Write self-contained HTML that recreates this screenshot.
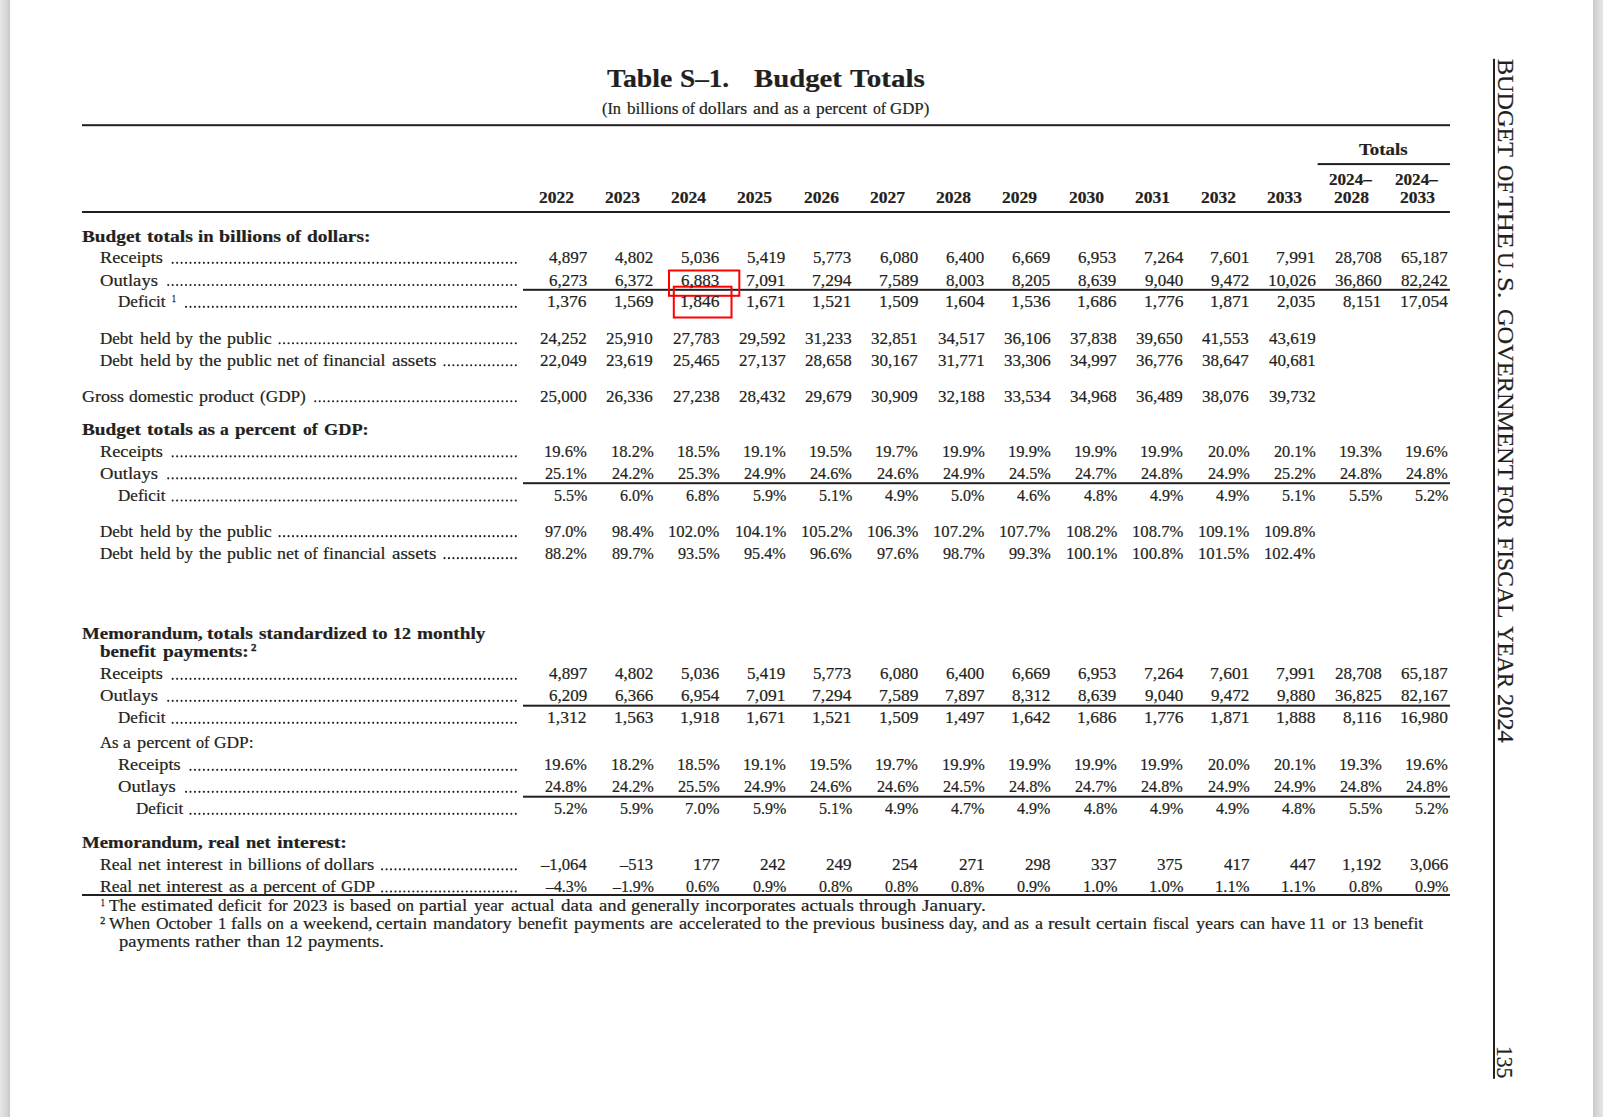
<!DOCTYPE html>
<html lang="en">
<head>
<meta charset="utf-8">
<title>Table S-1. Budget Totals</title>
<style>
html,body{margin:0;padding:0;background:#fff;}
body{width:1603px;height:1117px;position:relative;overflow:hidden;font-family:"Liberation Serif",serif;color:#231f20;}
.edge{position:absolute;top:0;width:10px;height:1117px;}
.edge.l{left:0;background:linear-gradient(to right,#e7e7e7 0%,#d4d4d4 70%,#c8c8c8 100%);}
.edge.r{left:1593px;background:linear-gradient(to left,#e7e7e7 0%,#d4d4d4 70%,#c8c8c8 100%);}
svg{position:absolute;left:0;top:0;}
.t{position:absolute;white-space:pre;transform-origin:0 0;font-family:"Liberation Serif",serif;-webkit-text-stroke:0.2px #231f20;}
.r{font-weight:400;}
.b{font-weight:700;}
.s{-webkit-text-stroke:0.35px #231f20;}
</style>
</head>
<body>
<div class="edge l"></div>
<div class="edge r"></div>
<svg width="1603" height="1117" viewBox="0 0 1603 1117">
<rect x="82.00" y="124.20" width="1368.00" height="2.00" fill="#231f20"/>
<rect x="1317.60" y="163.10" width="132.40" height="2.00" fill="#231f20"/>
<rect x="82.00" y="211.00" width="1368.00" height="2.00" fill="#231f20"/>
<rect x="523.00" y="288.80" width="927.00" height="2.00" fill="#231f20"/>
<rect x="523.00" y="482.20" width="927.00" height="2.00" fill="#231f20"/>
<rect x="523.00" y="704.70" width="927.00" height="2.00" fill="#231f20"/>
<rect x="523.00" y="795.70" width="927.00" height="2.00" fill="#231f20"/>
<rect x="82.00" y="894.00" width="1368.00" height="2.00" fill="#231f20"/>
<rect x="1493" y="58.8" width="2" height="1020.0" fill="#231f20"/>
<line x1="172.69" y1="262.85" x2="515.81" y2="262.85" stroke="#231f20" stroke-width="2.1" stroke-linecap="round" stroke-dasharray="0 4.456"/>
<line x1="168.23" y1="285.05" x2="515.81" y2="285.05" stroke="#231f20" stroke-width="2.1" stroke-linecap="round" stroke-dasharray="0 4.456"/>
<line x1="186.06" y1="306.85" x2="515.81" y2="306.85" stroke="#231f20" stroke-width="2.1" stroke-linecap="round" stroke-dasharray="0 4.456"/>
<line x1="279.63" y1="343.25" x2="515.81" y2="343.25" stroke="#231f20" stroke-width="2.1" stroke-linecap="round" stroke-dasharray="0 4.456"/>
<line x1="444.50" y1="365.25" x2="515.81" y2="365.25" stroke="#231f20" stroke-width="2.1" stroke-linecap="round" stroke-dasharray="0 4.456"/>
<line x1="315.28" y1="401.25" x2="515.81" y2="401.25" stroke="#231f20" stroke-width="2.1" stroke-linecap="round" stroke-dasharray="0 4.456"/>
<line x1="172.69" y1="456.35" x2="515.81" y2="456.35" stroke="#231f20" stroke-width="2.1" stroke-linecap="round" stroke-dasharray="0 4.456"/>
<line x1="168.23" y1="478.35" x2="515.81" y2="478.35" stroke="#231f20" stroke-width="2.1" stroke-linecap="round" stroke-dasharray="0 4.456"/>
<line x1="172.69" y1="500.45" x2="515.81" y2="500.45" stroke="#231f20" stroke-width="2.1" stroke-linecap="round" stroke-dasharray="0 4.456"/>
<line x1="279.63" y1="536.15" x2="515.81" y2="536.15" stroke="#231f20" stroke-width="2.1" stroke-linecap="round" stroke-dasharray="0 4.456"/>
<line x1="444.50" y1="558.15" x2="515.81" y2="558.15" stroke="#231f20" stroke-width="2.1" stroke-linecap="round" stroke-dasharray="0 4.456"/>
<line x1="172.69" y1="678.85" x2="515.81" y2="678.85" stroke="#231f20" stroke-width="2.1" stroke-linecap="round" stroke-dasharray="0 4.456"/>
<line x1="168.23" y1="700.85" x2="515.81" y2="700.85" stroke="#231f20" stroke-width="2.1" stroke-linecap="round" stroke-dasharray="0 4.456"/>
<line x1="172.69" y1="722.85" x2="515.81" y2="722.85" stroke="#231f20" stroke-width="2.1" stroke-linecap="round" stroke-dasharray="0 4.456"/>
<line x1="190.51" y1="769.85" x2="515.81" y2="769.85" stroke="#231f20" stroke-width="2.1" stroke-linecap="round" stroke-dasharray="0 4.456"/>
<line x1="186.06" y1="791.85" x2="515.81" y2="791.85" stroke="#231f20" stroke-width="2.1" stroke-linecap="round" stroke-dasharray="0 4.456"/>
<line x1="190.51" y1="813.85" x2="515.81" y2="813.85" stroke="#231f20" stroke-width="2.1" stroke-linecap="round" stroke-dasharray="0 4.456"/>
<line x1="382.12" y1="869.35" x2="515.81" y2="869.35" stroke="#231f20" stroke-width="2.1" stroke-linecap="round" stroke-dasharray="0 4.456"/>
<line x1="382.12" y1="891.45" x2="515.81" y2="891.45" stroke="#231f20" stroke-width="2.1" stroke-linecap="round" stroke-dasharray="0 4.456"/>
<rect x="669" y="270.5" width="70.3" height="25.3" fill="none" stroke="#ff0000" stroke-width="2"/>
<rect x="673.8" y="286.7" width="57.7" height="30.8" fill="none" stroke="#ff0000" stroke-width="2"/>
</svg>
<span class="t b" style="left:606.80px;top:66.00px;font-size:25px;line-height:25px;transform:scaleX(1.1101)">Table</span>
<span class="t b" style="left:679.91px;top:66.00px;font-size:25px;line-height:25px;transform:scaleX(1.0887)">S–1.</span>
<span class="t b" style="left:753.90px;top:66.00px;font-size:25px;line-height:25px;transform:scaleX(1.1507)">Budget</span>
<span class="t b" style="left:849.80px;top:66.00px;font-size:25px;line-height:25px;transform:scaleX(1.1630)">Totals</span>
<span class="t r" style="left:602.40px;top:101.00px;font-size:16.0px;line-height:16.0px;transform:scaleX(1.0184)">(In</span>
<span class="t r" style="left:627.10px;top:101.00px;font-size:16.0px;line-height:16.0px;transform:scaleX(1.0714)">billions</span>
<span class="t r" style="left:682.48px;top:101.00px;font-size:16.0px;line-height:16.0px;transform:scaleX(0.9821)">of</span>
<span class="t r" style="left:699.40px;top:101.00px;font-size:16.0px;line-height:16.0px;transform:scaleX(1.1034)">dollars</span>
<span class="t r" style="left:752.80px;top:101.00px;font-size:16.0px;line-height:16.0px;transform:scaleX(1.1164)">and</span>
<span class="t r" style="left:783.60px;top:101.00px;font-size:16.0px;line-height:16.0px;transform:scaleX(1.0762)">as</span>
<span class="t r" style="left:803.30px;top:101.00px;font-size:16.0px;line-height:16.0px;transform:scaleX(1.0274)">a</span>
<span class="t r" style="left:815.70px;top:101.00px;font-size:16.0px;line-height:16.0px;transform:scaleX(1.0833)">percent</span>
<span class="t r" style="left:872.83px;top:101.00px;font-size:16.0px;line-height:16.0px;transform:scaleX(0.9821)">of</span>
<span class="t r" style="left:890.20px;top:101.00px;font-size:16.0px;line-height:16.0px;transform:scaleX(1.0509)">GDP)</span>
<span class="t b" style="left:538.75px;top:190.00px;font-size:16.0px;line-height:16.0px;transform:scaleX(1.0969)">2022</span>
<span class="t b" style="left:604.98px;top:190.00px;font-size:16.0px;line-height:16.0px;transform:scaleX(1.0969)">2023</span>
<span class="t b" style="left:671.21px;top:190.00px;font-size:16.0px;line-height:16.0px;transform:scaleX(1.0969)">2024</span>
<span class="t b" style="left:737.44px;top:190.00px;font-size:16.0px;line-height:16.0px;transform:scaleX(1.0969)">2025</span>
<span class="t b" style="left:803.67px;top:190.00px;font-size:16.0px;line-height:16.0px;transform:scaleX(1.0969)">2026</span>
<span class="t b" style="left:869.90px;top:190.00px;font-size:16.0px;line-height:16.0px;transform:scaleX(1.0969)">2027</span>
<span class="t b" style="left:936.13px;top:190.00px;font-size:16.0px;line-height:16.0px;transform:scaleX(1.0969)">2028</span>
<span class="t b" style="left:1002.36px;top:190.00px;font-size:16.0px;line-height:16.0px;transform:scaleX(1.0969)">2029</span>
<span class="t b" style="left:1068.59px;top:190.00px;font-size:16.0px;line-height:16.0px;transform:scaleX(1.0969)">2030</span>
<span class="t b" style="left:1134.82px;top:190.00px;font-size:16.0px;line-height:16.0px;transform:scaleX(1.0969)">2031</span>
<span class="t b" style="left:1201.05px;top:190.00px;font-size:16.0px;line-height:16.0px;transform:scaleX(1.0969)">2032</span>
<span class="t b" style="left:1267.28px;top:190.00px;font-size:16.0px;line-height:16.0px;transform:scaleX(1.0969)">2033</span>
<span class="t b" style="left:1329.16px;top:172.00px;font-size:16.0px;line-height:16.0px;transform:scaleX(1.0683)">2024–</span>
<span class="t b" style="left:1333.51px;top:190.00px;font-size:16.0px;line-height:16.0px;transform:scaleX(1.0969)">2028</span>
<span class="t b" style="left:1395.39px;top:172.00px;font-size:16.0px;line-height:16.0px;transform:scaleX(1.0683)">2024–</span>
<span class="t b" style="left:1399.74px;top:190.00px;font-size:16.0px;line-height:16.0px;transform:scaleX(1.0969)">2033</span>
<span class="t b" style="left:1359.35px;top:142.00px;font-size:16.0px;line-height:16.0px;transform:scaleX(1.1787)">Totals</span>
<span class="t b" style="left:81.70px;top:229.00px;font-size:16.0px;line-height:16.0px;transform:scaleX(1.2042)">Budget</span>
<span class="t b" style="left:146.80px;top:229.00px;font-size:16.0px;line-height:16.0px;transform:scaleX(1.2291)">totals</span>
<span class="t b" style="left:198.00px;top:229.00px;font-size:16.0px;line-height:16.0px;transform:scaleX(1.1677)">in</span>
<span class="t b" style="left:219.30px;top:229.00px;font-size:16.0px;line-height:16.0px;transform:scaleX(1.2463)">billions</span>
<span class="t b" style="left:285.77px;top:229.00px;font-size:16.0px;line-height:16.0px;transform:scaleX(1.1251)">of</span>
<span class="t b" style="left:306.90px;top:229.00px;font-size:16.0px;line-height:16.0px;transform:scaleX(1.2088)">dollars:</span>
<span class="t r" style="left:99.90px;top:250.00px;font-size:16.0px;line-height:16.0px;transform:scaleX(1.1409)">Receipts</span>
<span class="t r" style="left:548.57px;top:250.00px;font-size:16.0px;line-height:16.0px;transform:scaleX(1.0647)">4,897</span>
<span class="t r" style="left:614.80px;top:250.00px;font-size:16.0px;line-height:16.0px;transform:scaleX(1.0647)">4,802</span>
<span class="t r" style="left:681.03px;top:250.00px;font-size:16.0px;line-height:16.0px;transform:scaleX(1.0647)">5,036</span>
<span class="t r" style="left:747.26px;top:250.00px;font-size:16.0px;line-height:16.0px;transform:scaleX(1.0647)">5,419</span>
<span class="t r" style="left:813.49px;top:250.00px;font-size:16.0px;line-height:16.0px;transform:scaleX(1.0647)">5,773</span>
<span class="t r" style="left:879.72px;top:250.00px;font-size:16.0px;line-height:16.0px;transform:scaleX(1.0647)">6,080</span>
<span class="t r" style="left:945.95px;top:250.00px;font-size:16.0px;line-height:16.0px;transform:scaleX(1.0647)">6,400</span>
<span class="t r" style="left:1012.18px;top:250.00px;font-size:16.0px;line-height:16.0px;transform:scaleX(1.0647)">6,669</span>
<span class="t r" style="left:1078.41px;top:250.00px;font-size:16.0px;line-height:16.0px;transform:scaleX(1.0647)">6,953</span>
<span class="t r" style="left:1143.54px;top:250.00px;font-size:16.0px;line-height:16.0px;transform:scaleX(1.0952)">7,264</span>
<span class="t r" style="left:1209.77px;top:250.00px;font-size:16.0px;line-height:16.0px;transform:scaleX(1.0952)">7,601</span>
<span class="t r" style="left:1276.00px;top:250.00px;font-size:16.0px;line-height:16.0px;transform:scaleX(1.0952)">7,991</span>
<span class="t r" style="left:1334.88px;top:250.00px;font-size:16.0px;line-height:16.0px;transform:scaleX(1.0632)">28,708</span>
<span class="t r" style="left:1401.11px;top:250.00px;font-size:16.0px;line-height:16.0px;transform:scaleX(1.0632)">65,187</span>
<span class="t r" style="left:99.90px;top:273.00px;font-size:16.0px;line-height:16.0px;transform:scaleX(1.1644)">Outlays</span>
<span class="t r" style="left:548.57px;top:273.00px;font-size:16.0px;line-height:16.0px;transform:scaleX(1.0647)">6,273</span>
<span class="t r" style="left:614.80px;top:273.00px;font-size:16.0px;line-height:16.0px;transform:scaleX(1.0647)">6,372</span>
<span class="t r" style="left:681.03px;top:273.00px;font-size:16.0px;line-height:16.0px;transform:scaleX(1.0647)">6,883</span>
<span class="t r" style="left:746.16px;top:273.00px;font-size:16.0px;line-height:16.0px;transform:scaleX(1.0952)">7,091</span>
<span class="t r" style="left:812.39px;top:273.00px;font-size:16.0px;line-height:16.0px;transform:scaleX(1.0952)">7,294</span>
<span class="t r" style="left:878.62px;top:273.00px;font-size:16.0px;line-height:16.0px;transform:scaleX(1.0952)">7,589</span>
<span class="t r" style="left:945.95px;top:273.00px;font-size:16.0px;line-height:16.0px;transform:scaleX(1.0647)">8,003</span>
<span class="t r" style="left:1012.18px;top:273.00px;font-size:16.0px;line-height:16.0px;transform:scaleX(1.0647)">8,205</span>
<span class="t r" style="left:1078.41px;top:273.00px;font-size:16.0px;line-height:16.0px;transform:scaleX(1.0647)">8,639</span>
<span class="t r" style="left:1144.64px;top:273.00px;font-size:16.0px;line-height:16.0px;transform:scaleX(1.0647)">9,040</span>
<span class="t r" style="left:1210.87px;top:273.00px;font-size:16.0px;line-height:16.0px;transform:scaleX(1.0647)">9,472</span>
<span class="t r" style="left:1267.56px;top:273.00px;font-size:16.0px;line-height:16.0px;transform:scaleX(1.0879)">10,026</span>
<span class="t r" style="left:1334.88px;top:273.00px;font-size:16.0px;line-height:16.0px;transform:scaleX(1.0632)">36,860</span>
<span class="t r" style="left:1401.11px;top:273.00px;font-size:16.0px;line-height:16.0px;transform:scaleX(1.0632)">82,242</span>
<span class="t r" style="left:118.00px;top:294.00px;font-size:16.0px;line-height:16.0px;transform:scaleX(1.0694)">Deficit</span>
<span class="t r s" style="left:171.60px;top:294.00px;font-size:10.5px;line-height:10.5px;transform:scaleX(0.7200)">1</span>
<span class="t r" style="left:547.47px;top:294.00px;font-size:16.0px;line-height:16.0px;transform:scaleX(1.0952)">1,376</span>
<span class="t r" style="left:613.70px;top:294.00px;font-size:16.0px;line-height:16.0px;transform:scaleX(1.0952)">1,569</span>
<span class="t r" style="left:679.93px;top:294.00px;font-size:16.0px;line-height:16.0px;transform:scaleX(1.0952)">1,846</span>
<span class="t r" style="left:746.16px;top:294.00px;font-size:16.0px;line-height:16.0px;transform:scaleX(1.0952)">1,671</span>
<span class="t r" style="left:812.39px;top:294.00px;font-size:16.0px;line-height:16.0px;transform:scaleX(1.0952)">1,521</span>
<span class="t r" style="left:878.62px;top:294.00px;font-size:16.0px;line-height:16.0px;transform:scaleX(1.0952)">1,509</span>
<span class="t r" style="left:944.85px;top:294.00px;font-size:16.0px;line-height:16.0px;transform:scaleX(1.0952)">1,604</span>
<span class="t r" style="left:1011.08px;top:294.00px;font-size:16.0px;line-height:16.0px;transform:scaleX(1.0952)">1,536</span>
<span class="t r" style="left:1077.31px;top:294.00px;font-size:16.0px;line-height:16.0px;transform:scaleX(1.0952)">1,686</span>
<span class="t r" style="left:1143.54px;top:294.00px;font-size:16.0px;line-height:16.0px;transform:scaleX(1.0952)">1,776</span>
<span class="t r" style="left:1209.77px;top:294.00px;font-size:16.0px;line-height:16.0px;transform:scaleX(1.0952)">1,871</span>
<span class="t r" style="left:1277.10px;top:294.00px;font-size:16.0px;line-height:16.0px;transform:scaleX(1.0647)">2,035</span>
<span class="t r" style="left:1343.33px;top:294.00px;font-size:16.0px;line-height:16.0px;transform:scaleX(1.0647)">8,151</span>
<span class="t r" style="left:1400.02px;top:294.00px;font-size:16.0px;line-height:16.0px;transform:scaleX(1.0879)">17,054</span>
<span class="t r" style="left:99.90px;top:331.00px;font-size:16.0px;line-height:16.0px;transform:scaleX(1.0643)">Debt</span>
<span class="t r" style="left:140.30px;top:331.00px;font-size:16.0px;line-height:16.0px;transform:scaleX(1.1181)">held</span>
<span class="t r" style="left:176.20px;top:331.00px;font-size:16.0px;line-height:16.0px;transform:scaleX(1.0563)">by</span>
<span class="t r" style="left:198.50px;top:331.00px;font-size:16.0px;line-height:16.0px;transform:scaleX(1.1519)">the</span>
<span class="t r" style="left:226.70px;top:331.00px;font-size:16.0px;line-height:16.0px;transform:scaleX(1.1203)">public</span>
<span class="t r" style="left:540.12px;top:331.00px;font-size:16.0px;line-height:16.0px;transform:scaleX(1.0632)">24,252</span>
<span class="t r" style="left:606.35px;top:331.00px;font-size:16.0px;line-height:16.0px;transform:scaleX(1.0632)">25,910</span>
<span class="t r" style="left:672.58px;top:331.00px;font-size:16.0px;line-height:16.0px;transform:scaleX(1.0632)">27,783</span>
<span class="t r" style="left:738.81px;top:331.00px;font-size:16.0px;line-height:16.0px;transform:scaleX(1.0632)">29,592</span>
<span class="t r" style="left:805.04px;top:331.00px;font-size:16.0px;line-height:16.0px;transform:scaleX(1.0632)">31,233</span>
<span class="t r" style="left:871.27px;top:331.00px;font-size:16.0px;line-height:16.0px;transform:scaleX(1.0632)">32,851</span>
<span class="t r" style="left:937.50px;top:331.00px;font-size:16.0px;line-height:16.0px;transform:scaleX(1.0632)">34,517</span>
<span class="t r" style="left:1003.73px;top:331.00px;font-size:16.0px;line-height:16.0px;transform:scaleX(1.0632)">36,106</span>
<span class="t r" style="left:1069.96px;top:331.00px;font-size:16.0px;line-height:16.0px;transform:scaleX(1.0632)">37,838</span>
<span class="t r" style="left:1136.19px;top:331.00px;font-size:16.0px;line-height:16.0px;transform:scaleX(1.0632)">39,650</span>
<span class="t r" style="left:1202.42px;top:331.00px;font-size:16.0px;line-height:16.0px;transform:scaleX(1.0632)">41,553</span>
<span class="t r" style="left:1268.65px;top:331.00px;font-size:16.0px;line-height:16.0px;transform:scaleX(1.0632)">43,619</span>
<span class="t r" style="left:99.90px;top:353.00px;font-size:16.0px;line-height:16.0px;transform:scaleX(1.0643)">Debt</span>
<span class="t r" style="left:140.30px;top:353.00px;font-size:16.0px;line-height:16.0px;transform:scaleX(1.1181)">held</span>
<span class="t r" style="left:176.20px;top:353.00px;font-size:16.0px;line-height:16.0px;transform:scaleX(1.0563)">by</span>
<span class="t r" style="left:198.50px;top:353.00px;font-size:16.0px;line-height:16.0px;transform:scaleX(1.1519)">the</span>
<span class="t r" style="left:226.70px;top:353.00px;font-size:16.0px;line-height:16.0px;transform:scaleX(1.1203)">public</span>
<span class="t r" style="left:276.60px;top:353.00px;font-size:16.0px;line-height:16.0px;transform:scaleX(1.1193)">net</span>
<span class="t r" style="left:304.32px;top:353.00px;font-size:16.0px;line-height:16.0px;transform:scaleX(1.0325)">of</span>
<span class="t r" style="left:322.50px;top:353.00px;font-size:16.0px;line-height:16.0px;transform:scaleX(1.1164)">financial</span>
<span class="t r" style="left:391.56px;top:353.00px;font-size:16.0px;line-height:16.0px;transform:scaleX(1.1880)">assets</span>
<span class="t r" style="left:540.12px;top:353.00px;font-size:16.0px;line-height:16.0px;transform:scaleX(1.0632)">22,049</span>
<span class="t r" style="left:606.35px;top:353.00px;font-size:16.0px;line-height:16.0px;transform:scaleX(1.0632)">23,619</span>
<span class="t r" style="left:672.58px;top:353.00px;font-size:16.0px;line-height:16.0px;transform:scaleX(1.0632)">25,465</span>
<span class="t r" style="left:738.81px;top:353.00px;font-size:16.0px;line-height:16.0px;transform:scaleX(1.0632)">27,137</span>
<span class="t r" style="left:805.04px;top:353.00px;font-size:16.0px;line-height:16.0px;transform:scaleX(1.0632)">28,658</span>
<span class="t r" style="left:871.27px;top:353.00px;font-size:16.0px;line-height:16.0px;transform:scaleX(1.0632)">30,167</span>
<span class="t r" style="left:937.50px;top:353.00px;font-size:16.0px;line-height:16.0px;transform:scaleX(1.0632)">31,771</span>
<span class="t r" style="left:1003.73px;top:353.00px;font-size:16.0px;line-height:16.0px;transform:scaleX(1.0632)">33,306</span>
<span class="t r" style="left:1069.96px;top:353.00px;font-size:16.0px;line-height:16.0px;transform:scaleX(1.0632)">34,997</span>
<span class="t r" style="left:1136.19px;top:353.00px;font-size:16.0px;line-height:16.0px;transform:scaleX(1.0632)">36,776</span>
<span class="t r" style="left:1202.42px;top:353.00px;font-size:16.0px;line-height:16.0px;transform:scaleX(1.0632)">38,647</span>
<span class="t r" style="left:1268.65px;top:353.00px;font-size:16.0px;line-height:16.0px;transform:scaleX(1.0632)">40,681</span>
<span class="t r" style="left:81.70px;top:389.00px;font-size:16.0px;line-height:16.0px;transform:scaleX(1.1235)">Gross</span>
<span class="t r" style="left:128.80px;top:389.00px;font-size:16.0px;line-height:16.0px;transform:scaleX(1.1099)">domestic</span>
<span class="t r" style="left:198.50px;top:389.00px;font-size:16.0px;line-height:16.0px;transform:scaleX(1.1248)">product</span>
<span class="t r" style="left:259.80px;top:389.00px;font-size:16.0px;line-height:16.0px;transform:scaleX(1.0745)">(GDP)</span>
<span class="t r" style="left:540.12px;top:389.00px;font-size:16.0px;line-height:16.0px;transform:scaleX(1.0632)">25,000</span>
<span class="t r" style="left:606.35px;top:389.00px;font-size:16.0px;line-height:16.0px;transform:scaleX(1.0632)">26,336</span>
<span class="t r" style="left:672.58px;top:389.00px;font-size:16.0px;line-height:16.0px;transform:scaleX(1.0632)">27,238</span>
<span class="t r" style="left:738.81px;top:389.00px;font-size:16.0px;line-height:16.0px;transform:scaleX(1.0632)">28,432</span>
<span class="t r" style="left:805.04px;top:389.00px;font-size:16.0px;line-height:16.0px;transform:scaleX(1.0632)">29,679</span>
<span class="t r" style="left:871.27px;top:389.00px;font-size:16.0px;line-height:16.0px;transform:scaleX(1.0632)">30,909</span>
<span class="t r" style="left:937.50px;top:389.00px;font-size:16.0px;line-height:16.0px;transform:scaleX(1.0632)">32,188</span>
<span class="t r" style="left:1003.73px;top:389.00px;font-size:16.0px;line-height:16.0px;transform:scaleX(1.0632)">33,534</span>
<span class="t r" style="left:1069.96px;top:389.00px;font-size:16.0px;line-height:16.0px;transform:scaleX(1.0632)">34,968</span>
<span class="t r" style="left:1136.19px;top:389.00px;font-size:16.0px;line-height:16.0px;transform:scaleX(1.0632)">36,489</span>
<span class="t r" style="left:1202.42px;top:389.00px;font-size:16.0px;line-height:16.0px;transform:scaleX(1.0632)">38,076</span>
<span class="t r" style="left:1268.65px;top:389.00px;font-size:16.0px;line-height:16.0px;transform:scaleX(1.0632)">39,732</span>
<span class="t b" style="left:81.70px;top:422.00px;font-size:16.0px;line-height:16.0px;transform:scaleX(1.2042)">Budget</span>
<span class="t b" style="left:146.80px;top:422.00px;font-size:16.0px;line-height:16.0px;transform:scaleX(1.2291)">totals</span>
<span class="t b" style="left:198.00px;top:422.00px;font-size:16.0px;line-height:16.0px;transform:scaleX(1.1993)">as</span>
<span class="t b" style="left:220.36px;top:422.00px;font-size:16.0px;line-height:16.0px;transform:scaleX(1.0973)">a</span>
<span class="t b" style="left:235.10px;top:422.00px;font-size:16.0px;line-height:16.0px;transform:scaleX(1.1883)">percent</span>
<span class="t b" style="left:302.82px;top:422.00px;font-size:16.0px;line-height:16.0px;transform:scaleX(1.0973)">of</span>
<span class="t b" style="left:323.80px;top:422.00px;font-size:16.0px;line-height:16.0px;transform:scaleX(1.1408)">GDP:</span>
<span class="t r" style="left:99.90px;top:444.00px;font-size:16.0px;line-height:16.0px;transform:scaleX(1.1409)">Receipts</span>
<span class="t r" style="left:544.32px;top:444.00px;font-size:16.0px;line-height:16.0px;transform:scaleX(1.0385)">19.6%</span>
<span class="t r" style="left:610.55px;top:444.00px;font-size:16.0px;line-height:16.0px;transform:scaleX(1.0385)">18.2%</span>
<span class="t r" style="left:676.78px;top:444.00px;font-size:16.0px;line-height:16.0px;transform:scaleX(1.0385)">18.5%</span>
<span class="t r" style="left:743.01px;top:444.00px;font-size:16.0px;line-height:16.0px;transform:scaleX(1.0385)">19.1%</span>
<span class="t r" style="left:809.24px;top:444.00px;font-size:16.0px;line-height:16.0px;transform:scaleX(1.0385)">19.5%</span>
<span class="t r" style="left:875.47px;top:444.00px;font-size:16.0px;line-height:16.0px;transform:scaleX(1.0385)">19.7%</span>
<span class="t r" style="left:941.70px;top:444.00px;font-size:16.0px;line-height:16.0px;transform:scaleX(1.0385)">19.9%</span>
<span class="t r" style="left:1007.93px;top:444.00px;font-size:16.0px;line-height:16.0px;transform:scaleX(1.0385)">19.9%</span>
<span class="t r" style="left:1074.16px;top:444.00px;font-size:16.0px;line-height:16.0px;transform:scaleX(1.0385)">19.9%</span>
<span class="t r" style="left:1140.39px;top:444.00px;font-size:16.0px;line-height:16.0px;transform:scaleX(1.0385)">19.9%</span>
<span class="t r" style="left:1207.66px;top:444.00px;font-size:16.0px;line-height:16.0px;transform:scaleX(1.0132)">20.0%</span>
<span class="t r" style="left:1273.89px;top:444.00px;font-size:16.0px;line-height:16.0px;transform:scaleX(1.0132)">20.1%</span>
<span class="t r" style="left:1339.08px;top:444.00px;font-size:16.0px;line-height:16.0px;transform:scaleX(1.0385)">19.3%</span>
<span class="t r" style="left:1405.31px;top:444.00px;font-size:16.0px;line-height:16.0px;transform:scaleX(1.0385)">19.6%</span>
<span class="t r" style="left:99.90px;top:466.00px;font-size:16.0px;line-height:16.0px;transform:scaleX(1.1644)">Outlays</span>
<span class="t r" style="left:545.36px;top:466.00px;font-size:16.0px;line-height:16.0px;transform:scaleX(1.0132)">25.1%</span>
<span class="t r" style="left:611.59px;top:466.00px;font-size:16.0px;line-height:16.0px;transform:scaleX(1.0132)">24.2%</span>
<span class="t r" style="left:677.82px;top:466.00px;font-size:16.0px;line-height:16.0px;transform:scaleX(1.0132)">25.3%</span>
<span class="t r" style="left:744.05px;top:466.00px;font-size:16.0px;line-height:16.0px;transform:scaleX(1.0132)">24.9%</span>
<span class="t r" style="left:810.28px;top:466.00px;font-size:16.0px;line-height:16.0px;transform:scaleX(1.0132)">24.6%</span>
<span class="t r" style="left:876.51px;top:466.00px;font-size:16.0px;line-height:16.0px;transform:scaleX(1.0132)">24.6%</span>
<span class="t r" style="left:942.74px;top:466.00px;font-size:16.0px;line-height:16.0px;transform:scaleX(1.0132)">24.9%</span>
<span class="t r" style="left:1008.97px;top:466.00px;font-size:16.0px;line-height:16.0px;transform:scaleX(1.0132)">24.5%</span>
<span class="t r" style="left:1075.20px;top:466.00px;font-size:16.0px;line-height:16.0px;transform:scaleX(1.0132)">24.7%</span>
<span class="t r" style="left:1141.43px;top:466.00px;font-size:16.0px;line-height:16.0px;transform:scaleX(1.0132)">24.8%</span>
<span class="t r" style="left:1207.66px;top:466.00px;font-size:16.0px;line-height:16.0px;transform:scaleX(1.0132)">24.9%</span>
<span class="t r" style="left:1273.89px;top:466.00px;font-size:16.0px;line-height:16.0px;transform:scaleX(1.0132)">25.2%</span>
<span class="t r" style="left:1340.12px;top:466.00px;font-size:16.0px;line-height:16.0px;transform:scaleX(1.0132)">24.8%</span>
<span class="t r" style="left:1406.35px;top:466.00px;font-size:16.0px;line-height:16.0px;transform:scaleX(1.0132)">24.8%</span>
<span class="t r" style="left:118.00px;top:488.00px;font-size:16.0px;line-height:16.0px;transform:scaleX(1.0672)">Deficit</span>
<span class="t r" style="left:553.81px;top:488.00px;font-size:16.0px;line-height:16.0px;transform:scaleX(1.0027)">5.5%</span>
<span class="t r" style="left:620.04px;top:488.00px;font-size:16.0px;line-height:16.0px;transform:scaleX(1.0027)">6.0%</span>
<span class="t r" style="left:686.27px;top:488.00px;font-size:16.0px;line-height:16.0px;transform:scaleX(1.0027)">6.8%</span>
<span class="t r" style="left:752.50px;top:488.00px;font-size:16.0px;line-height:16.0px;transform:scaleX(1.0027)">5.9%</span>
<span class="t r" style="left:818.73px;top:488.00px;font-size:16.0px;line-height:16.0px;transform:scaleX(1.0027)">5.1%</span>
<span class="t r" style="left:884.96px;top:488.00px;font-size:16.0px;line-height:16.0px;transform:scaleX(1.0027)">4.9%</span>
<span class="t r" style="left:951.19px;top:488.00px;font-size:16.0px;line-height:16.0px;transform:scaleX(1.0027)">5.0%</span>
<span class="t r" style="left:1017.42px;top:488.00px;font-size:16.0px;line-height:16.0px;transform:scaleX(1.0027)">4.6%</span>
<span class="t r" style="left:1083.65px;top:488.00px;font-size:16.0px;line-height:16.0px;transform:scaleX(1.0027)">4.8%</span>
<span class="t r" style="left:1149.88px;top:488.00px;font-size:16.0px;line-height:16.0px;transform:scaleX(1.0027)">4.9%</span>
<span class="t r" style="left:1216.11px;top:488.00px;font-size:16.0px;line-height:16.0px;transform:scaleX(1.0027)">4.9%</span>
<span class="t r" style="left:1282.34px;top:488.00px;font-size:16.0px;line-height:16.0px;transform:scaleX(1.0027)">5.1%</span>
<span class="t r" style="left:1348.57px;top:488.00px;font-size:16.0px;line-height:16.0px;transform:scaleX(1.0027)">5.5%</span>
<span class="t r" style="left:1414.80px;top:488.00px;font-size:16.0px;line-height:16.0px;transform:scaleX(1.0027)">5.2%</span>
<span class="t r" style="left:99.90px;top:524.00px;font-size:16.0px;line-height:16.0px;transform:scaleX(1.0643)">Debt</span>
<span class="t r" style="left:140.30px;top:524.00px;font-size:16.0px;line-height:16.0px;transform:scaleX(1.1181)">held</span>
<span class="t r" style="left:176.20px;top:524.00px;font-size:16.0px;line-height:16.0px;transform:scaleX(1.0563)">by</span>
<span class="t r" style="left:198.50px;top:524.00px;font-size:16.0px;line-height:16.0px;transform:scaleX(1.1519)">the</span>
<span class="t r" style="left:226.70px;top:524.00px;font-size:16.0px;line-height:16.0px;transform:scaleX(1.1203)">public</span>
<span class="t r" style="left:545.36px;top:524.00px;font-size:16.0px;line-height:16.0px;transform:scaleX(1.0132)">97.0%</span>
<span class="t r" style="left:611.59px;top:524.00px;font-size:16.0px;line-height:16.0px;transform:scaleX(1.0132)">98.4%</span>
<span class="t r" style="left:668.33px;top:524.00px;font-size:16.0px;line-height:16.0px;transform:scaleX(1.0415)">102.0%</span>
<span class="t r" style="left:734.56px;top:524.00px;font-size:16.0px;line-height:16.0px;transform:scaleX(1.0415)">104.1%</span>
<span class="t r" style="left:800.79px;top:524.00px;font-size:16.0px;line-height:16.0px;transform:scaleX(1.0415)">105.2%</span>
<span class="t r" style="left:867.02px;top:524.00px;font-size:16.0px;line-height:16.0px;transform:scaleX(1.0415)">106.3%</span>
<span class="t r" style="left:933.25px;top:524.00px;font-size:16.0px;line-height:16.0px;transform:scaleX(1.0415)">107.2%</span>
<span class="t r" style="left:999.48px;top:524.00px;font-size:16.0px;line-height:16.0px;transform:scaleX(1.0415)">107.7%</span>
<span class="t r" style="left:1065.71px;top:524.00px;font-size:16.0px;line-height:16.0px;transform:scaleX(1.0415)">108.2%</span>
<span class="t r" style="left:1131.94px;top:524.00px;font-size:16.0px;line-height:16.0px;transform:scaleX(1.0415)">108.7%</span>
<span class="t r" style="left:1198.17px;top:524.00px;font-size:16.0px;line-height:16.0px;transform:scaleX(1.0415)">109.1%</span>
<span class="t r" style="left:1264.40px;top:524.00px;font-size:16.0px;line-height:16.0px;transform:scaleX(1.0415)">109.8%</span>
<span class="t r" style="left:99.90px;top:546.00px;font-size:16.0px;line-height:16.0px;transform:scaleX(1.0643)">Debt</span>
<span class="t r" style="left:140.30px;top:546.00px;font-size:16.0px;line-height:16.0px;transform:scaleX(1.1181)">held</span>
<span class="t r" style="left:176.20px;top:546.00px;font-size:16.0px;line-height:16.0px;transform:scaleX(1.0563)">by</span>
<span class="t r" style="left:198.50px;top:546.00px;font-size:16.0px;line-height:16.0px;transform:scaleX(1.1519)">the</span>
<span class="t r" style="left:226.70px;top:546.00px;font-size:16.0px;line-height:16.0px;transform:scaleX(1.1203)">public</span>
<span class="t r" style="left:276.60px;top:546.00px;font-size:16.0px;line-height:16.0px;transform:scaleX(1.1193)">net</span>
<span class="t r" style="left:304.32px;top:546.00px;font-size:16.0px;line-height:16.0px;transform:scaleX(1.0325)">of</span>
<span class="t r" style="left:322.50px;top:546.00px;font-size:16.0px;line-height:16.0px;transform:scaleX(1.1164)">financial</span>
<span class="t r" style="left:391.56px;top:546.00px;font-size:16.0px;line-height:16.0px;transform:scaleX(1.1880)">assets</span>
<span class="t r" style="left:545.36px;top:546.00px;font-size:16.0px;line-height:16.0px;transform:scaleX(1.0132)">88.2%</span>
<span class="t r" style="left:611.59px;top:546.00px;font-size:16.0px;line-height:16.0px;transform:scaleX(1.0132)">89.7%</span>
<span class="t r" style="left:677.82px;top:546.00px;font-size:16.0px;line-height:16.0px;transform:scaleX(1.0132)">93.5%</span>
<span class="t r" style="left:744.05px;top:546.00px;font-size:16.0px;line-height:16.0px;transform:scaleX(1.0132)">95.4%</span>
<span class="t r" style="left:810.28px;top:546.00px;font-size:16.0px;line-height:16.0px;transform:scaleX(1.0132)">96.6%</span>
<span class="t r" style="left:876.51px;top:546.00px;font-size:16.0px;line-height:16.0px;transform:scaleX(1.0132)">97.6%</span>
<span class="t r" style="left:942.74px;top:546.00px;font-size:16.0px;line-height:16.0px;transform:scaleX(1.0132)">98.7%</span>
<span class="t r" style="left:1008.97px;top:546.00px;font-size:16.0px;line-height:16.0px;transform:scaleX(1.0132)">99.3%</span>
<span class="t r" style="left:1065.71px;top:546.00px;font-size:16.0px;line-height:16.0px;transform:scaleX(1.0415)">100.1%</span>
<span class="t r" style="left:1131.94px;top:546.00px;font-size:16.0px;line-height:16.0px;transform:scaleX(1.0415)">100.8%</span>
<span class="t r" style="left:1198.17px;top:546.00px;font-size:16.0px;line-height:16.0px;transform:scaleX(1.0415)">101.5%</span>
<span class="t r" style="left:1264.40px;top:546.00px;font-size:16.0px;line-height:16.0px;transform:scaleX(1.0415)">102.4%</span>
<span class="t b" style="left:81.70px;top:626.00px;font-size:16.0px;line-height:16.0px;transform:scaleX(1.1767)">Memorandum,</span>
<span class="t b" style="left:207.40px;top:626.00px;font-size:16.0px;line-height:16.0px;transform:scaleX(1.2291)">totals</span>
<span class="t b" style="left:258.60px;top:626.00px;font-size:16.0px;line-height:16.0px;transform:scaleX(1.2111)">standardized</span>
<span class="t b" style="left:372.40px;top:626.00px;font-size:16.0px;line-height:16.0px;transform:scaleX(1.1630)">to</span>
<span class="t b" style="left:392.87px;top:626.00px;font-size:16.0px;line-height:16.0px;transform:scaleX(1.1267)">12</span>
<span class="t b" style="left:416.50px;top:626.00px;font-size:16.0px;line-height:16.0px;transform:scaleX(1.2020)">monthly</span>
<span class="t b" style="left:99.90px;top:644.00px;font-size:16.0px;line-height:16.0px;transform:scaleX(1.1846)">benefit</span>
<span class="t b" style="left:162.50px;top:644.00px;font-size:16.0px;line-height:16.0px;transform:scaleX(1.2066)">payments:</span>
<span class="t b s" style="left:251.40px;top:643.00px;font-size:10.5px;line-height:10.5px;transform:scaleX(1.0400)">2</span>
<span class="t r" style="left:99.90px;top:666.00px;font-size:16.0px;line-height:16.0px;transform:scaleX(1.1409)">Receipts</span>
<span class="t r" style="left:548.57px;top:666.00px;font-size:16.0px;line-height:16.0px;transform:scaleX(1.0647)">4,897</span>
<span class="t r" style="left:614.80px;top:666.00px;font-size:16.0px;line-height:16.0px;transform:scaleX(1.0647)">4,802</span>
<span class="t r" style="left:681.03px;top:666.00px;font-size:16.0px;line-height:16.0px;transform:scaleX(1.0647)">5,036</span>
<span class="t r" style="left:747.26px;top:666.00px;font-size:16.0px;line-height:16.0px;transform:scaleX(1.0647)">5,419</span>
<span class="t r" style="left:813.49px;top:666.00px;font-size:16.0px;line-height:16.0px;transform:scaleX(1.0647)">5,773</span>
<span class="t r" style="left:879.72px;top:666.00px;font-size:16.0px;line-height:16.0px;transform:scaleX(1.0647)">6,080</span>
<span class="t r" style="left:945.95px;top:666.00px;font-size:16.0px;line-height:16.0px;transform:scaleX(1.0647)">6,400</span>
<span class="t r" style="left:1012.18px;top:666.00px;font-size:16.0px;line-height:16.0px;transform:scaleX(1.0647)">6,669</span>
<span class="t r" style="left:1078.41px;top:666.00px;font-size:16.0px;line-height:16.0px;transform:scaleX(1.0647)">6,953</span>
<span class="t r" style="left:1143.54px;top:666.00px;font-size:16.0px;line-height:16.0px;transform:scaleX(1.0952)">7,264</span>
<span class="t r" style="left:1209.77px;top:666.00px;font-size:16.0px;line-height:16.0px;transform:scaleX(1.0952)">7,601</span>
<span class="t r" style="left:1276.00px;top:666.00px;font-size:16.0px;line-height:16.0px;transform:scaleX(1.0952)">7,991</span>
<span class="t r" style="left:1334.88px;top:666.00px;font-size:16.0px;line-height:16.0px;transform:scaleX(1.0632)">28,708</span>
<span class="t r" style="left:1401.11px;top:666.00px;font-size:16.0px;line-height:16.0px;transform:scaleX(1.0632)">65,187</span>
<span class="t r" style="left:99.90px;top:688.00px;font-size:16.0px;line-height:16.0px;transform:scaleX(1.1644)">Outlays</span>
<span class="t r" style="left:548.57px;top:688.00px;font-size:16.0px;line-height:16.0px;transform:scaleX(1.0647)">6,209</span>
<span class="t r" style="left:614.80px;top:688.00px;font-size:16.0px;line-height:16.0px;transform:scaleX(1.0647)">6,366</span>
<span class="t r" style="left:681.03px;top:688.00px;font-size:16.0px;line-height:16.0px;transform:scaleX(1.0647)">6,954</span>
<span class="t r" style="left:746.16px;top:688.00px;font-size:16.0px;line-height:16.0px;transform:scaleX(1.0952)">7,091</span>
<span class="t r" style="left:812.39px;top:688.00px;font-size:16.0px;line-height:16.0px;transform:scaleX(1.0952)">7,294</span>
<span class="t r" style="left:878.62px;top:688.00px;font-size:16.0px;line-height:16.0px;transform:scaleX(1.0952)">7,589</span>
<span class="t r" style="left:944.85px;top:688.00px;font-size:16.0px;line-height:16.0px;transform:scaleX(1.0952)">7,897</span>
<span class="t r" style="left:1012.18px;top:688.00px;font-size:16.0px;line-height:16.0px;transform:scaleX(1.0647)">8,312</span>
<span class="t r" style="left:1078.41px;top:688.00px;font-size:16.0px;line-height:16.0px;transform:scaleX(1.0647)">8,639</span>
<span class="t r" style="left:1144.64px;top:688.00px;font-size:16.0px;line-height:16.0px;transform:scaleX(1.0647)">9,040</span>
<span class="t r" style="left:1210.87px;top:688.00px;font-size:16.0px;line-height:16.0px;transform:scaleX(1.0647)">9,472</span>
<span class="t r" style="left:1277.10px;top:688.00px;font-size:16.0px;line-height:16.0px;transform:scaleX(1.0647)">9,880</span>
<span class="t r" style="left:1334.88px;top:688.00px;font-size:16.0px;line-height:16.0px;transform:scaleX(1.0632)">36,825</span>
<span class="t r" style="left:1401.11px;top:688.00px;font-size:16.0px;line-height:16.0px;transform:scaleX(1.0632)">82,167</span>
<span class="t r" style="left:118.00px;top:710.00px;font-size:16.0px;line-height:16.0px;transform:scaleX(1.0672)">Deficit</span>
<span class="t r" style="left:547.47px;top:710.00px;font-size:16.0px;line-height:16.0px;transform:scaleX(1.0952)">1,312</span>
<span class="t r" style="left:613.70px;top:710.00px;font-size:16.0px;line-height:16.0px;transform:scaleX(1.0952)">1,563</span>
<span class="t r" style="left:679.93px;top:710.00px;font-size:16.0px;line-height:16.0px;transform:scaleX(1.0952)">1,918</span>
<span class="t r" style="left:746.16px;top:710.00px;font-size:16.0px;line-height:16.0px;transform:scaleX(1.0952)">1,671</span>
<span class="t r" style="left:812.39px;top:710.00px;font-size:16.0px;line-height:16.0px;transform:scaleX(1.0952)">1,521</span>
<span class="t r" style="left:878.62px;top:710.00px;font-size:16.0px;line-height:16.0px;transform:scaleX(1.0952)">1,509</span>
<span class="t r" style="left:944.85px;top:710.00px;font-size:16.0px;line-height:16.0px;transform:scaleX(1.0952)">1,497</span>
<span class="t r" style="left:1011.08px;top:710.00px;font-size:16.0px;line-height:16.0px;transform:scaleX(1.0952)">1,642</span>
<span class="t r" style="left:1077.31px;top:710.00px;font-size:16.0px;line-height:16.0px;transform:scaleX(1.0952)">1,686</span>
<span class="t r" style="left:1143.54px;top:710.00px;font-size:16.0px;line-height:16.0px;transform:scaleX(1.0952)">1,776</span>
<span class="t r" style="left:1209.77px;top:710.00px;font-size:16.0px;line-height:16.0px;transform:scaleX(1.0952)">1,871</span>
<span class="t r" style="left:1276.00px;top:710.00px;font-size:16.0px;line-height:16.0px;transform:scaleX(1.0952)">1,888</span>
<span class="t r" style="left:1343.33px;top:710.00px;font-size:16.0px;line-height:16.0px;transform:scaleX(1.0826)">8,116</span>
<span class="t r" style="left:1400.02px;top:710.00px;font-size:16.0px;line-height:16.0px;transform:scaleX(1.0879)">16,980</span>
<span class="t r" style="left:99.90px;top:735.00px;font-size:16.0px;line-height:16.0px;transform:scaleX(1.0482)">As</span>
<span class="t r" style="left:123.40px;top:735.00px;font-size:16.0px;line-height:16.0px;transform:scaleX(1.0988)">a</span>
<span class="t r" style="left:136.90px;top:735.00px;font-size:16.0px;line-height:16.0px;transform:scaleX(1.1421)">percent</span>
<span class="t r" style="left:195.75px;top:735.00px;font-size:16.0px;line-height:16.0px;transform:scaleX(1.0076)">of</span>
<span class="t r" style="left:214.40px;top:735.00px;font-size:16.0px;line-height:16.0px;transform:scaleX(1.0859)">GDP:</span>
<span class="t r" style="left:118.00px;top:757.00px;font-size:16.0px;line-height:16.0px;transform:scaleX(1.1355)">Receipts</span>
<span class="t r" style="left:544.32px;top:757.00px;font-size:16.0px;line-height:16.0px;transform:scaleX(1.0385)">19.6%</span>
<span class="t r" style="left:610.55px;top:757.00px;font-size:16.0px;line-height:16.0px;transform:scaleX(1.0385)">18.2%</span>
<span class="t r" style="left:676.78px;top:757.00px;font-size:16.0px;line-height:16.0px;transform:scaleX(1.0385)">18.5%</span>
<span class="t r" style="left:743.01px;top:757.00px;font-size:16.0px;line-height:16.0px;transform:scaleX(1.0385)">19.1%</span>
<span class="t r" style="left:809.24px;top:757.00px;font-size:16.0px;line-height:16.0px;transform:scaleX(1.0385)">19.5%</span>
<span class="t r" style="left:875.47px;top:757.00px;font-size:16.0px;line-height:16.0px;transform:scaleX(1.0385)">19.7%</span>
<span class="t r" style="left:941.70px;top:757.00px;font-size:16.0px;line-height:16.0px;transform:scaleX(1.0385)">19.9%</span>
<span class="t r" style="left:1007.93px;top:757.00px;font-size:16.0px;line-height:16.0px;transform:scaleX(1.0385)">19.9%</span>
<span class="t r" style="left:1074.16px;top:757.00px;font-size:16.0px;line-height:16.0px;transform:scaleX(1.0385)">19.9%</span>
<span class="t r" style="left:1140.39px;top:757.00px;font-size:16.0px;line-height:16.0px;transform:scaleX(1.0385)">19.9%</span>
<span class="t r" style="left:1207.66px;top:757.00px;font-size:16.0px;line-height:16.0px;transform:scaleX(1.0132)">20.0%</span>
<span class="t r" style="left:1273.89px;top:757.00px;font-size:16.0px;line-height:16.0px;transform:scaleX(1.0132)">20.1%</span>
<span class="t r" style="left:1339.08px;top:757.00px;font-size:16.0px;line-height:16.0px;transform:scaleX(1.0385)">19.3%</span>
<span class="t r" style="left:1405.31px;top:757.00px;font-size:16.0px;line-height:16.0px;transform:scaleX(1.0385)">19.6%</span>
<span class="t r" style="left:118.00px;top:779.00px;font-size:16.0px;line-height:16.0px;transform:scaleX(1.1624)">Outlays</span>
<span class="t r" style="left:545.36px;top:779.00px;font-size:16.0px;line-height:16.0px;transform:scaleX(1.0132)">24.8%</span>
<span class="t r" style="left:611.59px;top:779.00px;font-size:16.0px;line-height:16.0px;transform:scaleX(1.0132)">24.2%</span>
<span class="t r" style="left:677.82px;top:779.00px;font-size:16.0px;line-height:16.0px;transform:scaleX(1.0132)">25.5%</span>
<span class="t r" style="left:744.05px;top:779.00px;font-size:16.0px;line-height:16.0px;transform:scaleX(1.0132)">24.9%</span>
<span class="t r" style="left:810.28px;top:779.00px;font-size:16.0px;line-height:16.0px;transform:scaleX(1.0132)">24.6%</span>
<span class="t r" style="left:876.51px;top:779.00px;font-size:16.0px;line-height:16.0px;transform:scaleX(1.0132)">24.6%</span>
<span class="t r" style="left:942.74px;top:779.00px;font-size:16.0px;line-height:16.0px;transform:scaleX(1.0132)">24.5%</span>
<span class="t r" style="left:1008.97px;top:779.00px;font-size:16.0px;line-height:16.0px;transform:scaleX(1.0132)">24.8%</span>
<span class="t r" style="left:1075.20px;top:779.00px;font-size:16.0px;line-height:16.0px;transform:scaleX(1.0132)">24.7%</span>
<span class="t r" style="left:1141.43px;top:779.00px;font-size:16.0px;line-height:16.0px;transform:scaleX(1.0132)">24.8%</span>
<span class="t r" style="left:1207.66px;top:779.00px;font-size:16.0px;line-height:16.0px;transform:scaleX(1.0132)">24.9%</span>
<span class="t r" style="left:1273.89px;top:779.00px;font-size:16.0px;line-height:16.0px;transform:scaleX(1.0132)">24.9%</span>
<span class="t r" style="left:1340.12px;top:779.00px;font-size:16.0px;line-height:16.0px;transform:scaleX(1.0132)">24.8%</span>
<span class="t r" style="left:1406.35px;top:779.00px;font-size:16.0px;line-height:16.0px;transform:scaleX(1.0132)">24.8%</span>
<span class="t r" style="left:136.20px;top:801.00px;font-size:16.0px;line-height:16.0px;transform:scaleX(1.0650)">Deficit</span>
<span class="t r" style="left:553.81px;top:801.00px;font-size:16.0px;line-height:16.0px;transform:scaleX(1.0027)">5.2%</span>
<span class="t r" style="left:620.04px;top:801.00px;font-size:16.0px;line-height:16.0px;transform:scaleX(1.0027)">5.9%</span>
<span class="t r" style="left:685.24px;top:801.00px;font-size:16.0px;line-height:16.0px;transform:scaleX(1.0340)">7.0%</span>
<span class="t r" style="left:752.50px;top:801.00px;font-size:16.0px;line-height:16.0px;transform:scaleX(1.0027)">5.9%</span>
<span class="t r" style="left:818.73px;top:801.00px;font-size:16.0px;line-height:16.0px;transform:scaleX(1.0027)">5.1%</span>
<span class="t r" style="left:884.96px;top:801.00px;font-size:16.0px;line-height:16.0px;transform:scaleX(1.0027)">4.9%</span>
<span class="t r" style="left:951.19px;top:801.00px;font-size:16.0px;line-height:16.0px;transform:scaleX(1.0027)">4.7%</span>
<span class="t r" style="left:1017.42px;top:801.00px;font-size:16.0px;line-height:16.0px;transform:scaleX(1.0027)">4.9%</span>
<span class="t r" style="left:1083.65px;top:801.00px;font-size:16.0px;line-height:16.0px;transform:scaleX(1.0027)">4.8%</span>
<span class="t r" style="left:1149.88px;top:801.00px;font-size:16.0px;line-height:16.0px;transform:scaleX(1.0027)">4.9%</span>
<span class="t r" style="left:1216.11px;top:801.00px;font-size:16.0px;line-height:16.0px;transform:scaleX(1.0027)">4.9%</span>
<span class="t r" style="left:1282.34px;top:801.00px;font-size:16.0px;line-height:16.0px;transform:scaleX(1.0027)">4.8%</span>
<span class="t r" style="left:1348.57px;top:801.00px;font-size:16.0px;line-height:16.0px;transform:scaleX(1.0027)">5.5%</span>
<span class="t r" style="left:1414.80px;top:801.00px;font-size:16.0px;line-height:16.0px;transform:scaleX(1.0027)">5.2%</span>
<span class="t b" style="left:82.00px;top:835.00px;font-size:16.0px;line-height:16.0px;transform:scaleX(1.1748)">Memorandum,</span>
<span class="t b" style="left:207.70px;top:835.00px;font-size:16.0px;line-height:16.0px;transform:scaleX(1.1964)">real</span>
<span class="t b" style="left:245.60px;top:835.00px;font-size:16.0px;line-height:16.0px;transform:scaleX(1.1500)">net</span>
<span class="t b" style="left:277.20px;top:835.00px;font-size:16.0px;line-height:16.0px;transform:scaleX(1.2362)">interest:</span>
<span class="t r" style="left:100.10px;top:857.00px;font-size:16.0px;line-height:16.0px;transform:scaleX(1.0943)">Real</span>
<span class="t r" style="left:137.90px;top:857.00px;font-size:16.0px;line-height:16.0px;transform:scaleX(1.1591)">net</span>
<span class="t r" style="left:166.18px;top:857.00px;font-size:16.0px;line-height:16.0px;transform:scaleX(1.2033)">interest</span>
<span class="t r" style="left:229.19px;top:857.00px;font-size:16.0px;line-height:16.0px;transform:scaleX(1.0458)">in</span>
<span class="t r" style="left:248.00px;top:857.00px;font-size:16.0px;line-height:16.0px;transform:scaleX(1.1132)">billions</span>
<span class="t r" style="left:305.68px;top:857.00px;font-size:16.0px;line-height:16.0px;transform:scaleX(1.0458)">of</span>
<span class="t r" style="left:324.30px;top:857.00px;font-size:16.0px;line-height:16.0px;transform:scaleX(1.1519)">dollars</span>
<span class="t r" style="left:541.16px;top:857.00px;font-size:16.0px;line-height:16.0px;transform:scaleX(1.0396)">–1,064</span>
<span class="t r" style="left:620.06px;top:857.00px;font-size:16.0px;line-height:16.0px;transform:scaleX(1.0335)">–513</span>
<span class="t r" style="left:692.59px;top:857.00px;font-size:16.0px;line-height:16.0px;transform:scaleX(1.1154)">177</span>
<span class="t r" style="left:759.94px;top:857.00px;font-size:16.0px;line-height:16.0px;transform:scaleX(1.0689)">242</span>
<span class="t r" style="left:826.17px;top:857.00px;font-size:16.0px;line-height:16.0px;transform:scaleX(1.0689)">249</span>
<span class="t r" style="left:892.40px;top:857.00px;font-size:16.0px;line-height:16.0px;transform:scaleX(1.0689)">254</span>
<span class="t r" style="left:958.63px;top:857.00px;font-size:16.0px;line-height:16.0px;transform:scaleX(1.0689)">271</span>
<span class="t r" style="left:1024.86px;top:857.00px;font-size:16.0px;line-height:16.0px;transform:scaleX(1.0689)">298</span>
<span class="t r" style="left:1091.09px;top:857.00px;font-size:16.0px;line-height:16.0px;transform:scaleX(1.0689)">337</span>
<span class="t r" style="left:1157.32px;top:857.00px;font-size:16.0px;line-height:16.0px;transform:scaleX(1.0689)">375</span>
<span class="t r" style="left:1223.55px;top:857.00px;font-size:16.0px;line-height:16.0px;transform:scaleX(1.0689)">417</span>
<span class="t r" style="left:1289.78px;top:857.00px;font-size:16.0px;line-height:16.0px;transform:scaleX(1.0689)">447</span>
<span class="t r" style="left:1342.23px;top:857.00px;font-size:16.0px;line-height:16.0px;transform:scaleX(1.0952)">1,192</span>
<span class="t r" style="left:1409.56px;top:857.00px;font-size:16.0px;line-height:16.0px;transform:scaleX(1.0647)">3,066</span>
<span class="t r" style="left:100.10px;top:879.00px;font-size:16.0px;line-height:16.0px;transform:scaleX(1.0943)">Real</span>
<span class="t r" style="left:137.90px;top:879.00px;font-size:16.0px;line-height:16.0px;transform:scaleX(1.1591)">net</span>
<span class="t r" style="left:166.28px;top:879.00px;font-size:16.0px;line-height:16.0px;transform:scaleX(1.1991)">interest</span>
<span class="t r" style="left:229.30px;top:879.00px;font-size:16.0px;line-height:16.0px;transform:scaleX(1.1525)">as</span>
<span class="t r" style="left:250.00px;top:879.00px;font-size:16.0px;line-height:16.0px;transform:scaleX(1.0560)">a</span>
<span class="t r" style="left:263.00px;top:879.00px;font-size:16.0px;line-height:16.0px;transform:scaleX(1.1316)">percent</span>
<span class="t r" style="left:321.60px;top:879.00px;font-size:16.0px;line-height:16.0px;transform:scaleX(1.0422)">of</span>
<span class="t r" style="left:340.50px;top:879.00px;font-size:16.0px;line-height:16.0px;transform:scaleX(1.0617)">GDP</span>
<span class="t r" style="left:546.35px;top:879.00px;font-size:16.0px;line-height:16.0px;transform:scaleX(0.9891)">–4.3%</span>
<span class="t r" style="left:612.58px;top:879.00px;font-size:16.0px;line-height:16.0px;transform:scaleX(0.9891)">–1.9%</span>
<span class="t r" style="left:686.27px;top:879.00px;font-size:16.0px;line-height:16.0px;transform:scaleX(1.0027)">0.6%</span>
<span class="t r" style="left:752.50px;top:879.00px;font-size:16.0px;line-height:16.0px;transform:scaleX(1.0027)">0.9%</span>
<span class="t r" style="left:818.73px;top:879.00px;font-size:16.0px;line-height:16.0px;transform:scaleX(1.0027)">0.8%</span>
<span class="t r" style="left:884.96px;top:879.00px;font-size:16.0px;line-height:16.0px;transform:scaleX(1.0027)">0.8%</span>
<span class="t r" style="left:951.19px;top:879.00px;font-size:16.0px;line-height:16.0px;transform:scaleX(1.0027)">0.8%</span>
<span class="t r" style="left:1017.42px;top:879.00px;font-size:16.0px;line-height:16.0px;transform:scaleX(1.0027)">0.9%</span>
<span class="t r" style="left:1082.62px;top:879.00px;font-size:16.0px;line-height:16.0px;transform:scaleX(1.0340)">1.0%</span>
<span class="t r" style="left:1148.85px;top:879.00px;font-size:16.0px;line-height:16.0px;transform:scaleX(1.0340)">1.0%</span>
<span class="t r" style="left:1215.08px;top:879.00px;font-size:16.0px;line-height:16.0px;transform:scaleX(1.0340)">1.1%</span>
<span class="t r" style="left:1281.31px;top:879.00px;font-size:16.0px;line-height:16.0px;transform:scaleX(1.0340)">1.1%</span>
<span class="t r" style="left:1348.57px;top:879.00px;font-size:16.0px;line-height:16.0px;transform:scaleX(1.0027)">0.8%</span>
<span class="t r" style="left:1414.80px;top:879.00px;font-size:16.0px;line-height:16.0px;transform:scaleX(1.0027)">0.9%</span>
<span class="t r s" style="left:100.80px;top:898.00px;font-size:10px;line-height:10px;transform:scaleX(0.7200)">1</span>
<span class="t r" style="left:108.50px;top:898.00px;font-size:16.0px;line-height:16.0px;transform:scaleX(1.0858)">The</span>
<span class="t r" style="left:141.00px;top:898.00px;font-size:16.0px;line-height:16.0px;transform:scaleX(1.1727)">estimated</span>
<span class="t r" style="left:218.10px;top:898.00px;font-size:16.0px;line-height:16.0px;transform:scaleX(1.0669)">deficit</span>
<span class="t r" style="left:267.81px;top:898.00px;font-size:16.0px;line-height:16.0px;transform:scaleX(1.0592)">for</span>
<span class="t r" style="left:293.10px;top:898.00px;font-size:16.0px;line-height:16.0px;transform:scaleX(1.0719)">2023</span>
<span class="t r" style="left:333.37px;top:898.00px;font-size:16.0px;line-height:16.0px;transform:scaleX(1.0592)">is</span>
<span class="t r" style="left:349.90px;top:898.00px;font-size:16.0px;line-height:16.0px;transform:scaleX(1.1280)">based</span>
<span class="t r" style="left:396.88px;top:898.00px;font-size:16.0px;line-height:16.0px;transform:scaleX(1.0592)">on</span>
<span class="t r" style="left:419.10px;top:898.00px;font-size:16.0px;line-height:16.0px;transform:scaleX(1.1803)">partial</span>
<span class="t r" style="left:474.10px;top:898.00px;font-size:16.0px;line-height:16.0px;transform:scaleX(1.0743)">year</span>
<span class="t r" style="left:510.70px;top:898.00px;font-size:16.0px;line-height:16.0px;transform:scaleX(1.1430)">actual</span>
<span class="t r" style="left:561.20px;top:898.00px;font-size:16.0px;line-height:16.0px;transform:scaleX(1.1862)">data</span>
<span class="t r" style="left:598.70px;top:898.00px;font-size:16.0px;line-height:16.0px;transform:scaleX(1.1684)">and</span>
<span class="t r" style="left:631.30px;top:898.00px;font-size:16.0px;line-height:16.0px;transform:scaleX(1.1507)">generally</span>
<span class="t r" style="left:704.90px;top:898.00px;font-size:16.0px;line-height:16.0px;transform:scaleX(1.1477)">incorporates</span>
<span class="t r" style="left:801.10px;top:898.00px;font-size:16.0px;line-height:16.0px;transform:scaleX(1.1924)">actuals</span>
<span class="t r" style="left:859.40px;top:898.00px;font-size:16.0px;line-height:16.0px;transform:scaleX(1.1510)">through</span>
<span class="t r" style="left:922.30px;top:898.00px;font-size:16.0px;line-height:16.0px;transform:scaleX(1.2123)">January.</span>
<span class="t r s" style="left:100.20px;top:916.00px;font-size:10px;line-height:10px;transform:scaleX(1.0000)">2</span>
<span class="t r" style="left:108.90px;top:916.00px;font-size:16.0px;line-height:16.0px;transform:scaleX(1.0758)">When</span>
<span class="t r" style="left:156.10px;top:916.00px;font-size:16.0px;line-height:16.0px;transform:scaleX(1.0881)">October</span>
<span class="t r" style="left:217.69px;top:916.00px;font-size:16.0px;line-height:16.0px;transform:scaleX(1.0470)">1</span>
<span class="t r" style="left:231.30px;top:916.00px;font-size:16.0px;line-height:16.0px;transform:scaleX(1.1091)">falls</span>
<span class="t r" style="left:267.42px;top:916.00px;font-size:16.0px;line-height:16.0px;transform:scaleX(1.0470)">on</span>
<span class="t r" style="left:289.90px;top:916.00px;font-size:16.0px;line-height:16.0px;transform:scaleX(1.1273)">a</span>
<span class="t r" style="left:302.70px;top:916.00px;font-size:16.0px;line-height:16.0px;transform:scaleX(1.1443)">weekend,</span>
<span class="t r" style="left:376.20px;top:916.00px;font-size:16.0px;line-height:16.0px;transform:scaleX(1.1716)">certain</span>
<span class="t r" style="left:433.00px;top:916.00px;font-size:16.0px;line-height:16.0px;transform:scaleX(1.1488)">mandatory</span>
<span class="t r" style="left:517.90px;top:916.00px;font-size:16.0px;line-height:16.0px;transform:scaleX(1.1139)">benefit</span>
<span class="t r" style="left:574.00px;top:916.00px;font-size:16.0px;line-height:16.0px;transform:scaleX(1.1505)">payments</span>
<span class="t r" style="left:650.00px;top:916.00px;font-size:16.0px;line-height:16.0px;transform:scaleX(1.1735)">are</span>
<span class="t r" style="left:678.50px;top:916.00px;font-size:16.0px;line-height:16.0px;transform:scaleX(1.1413)">accelerated</span>
<span class="t r" style="left:766.20px;top:916.00px;font-size:16.0px;line-height:16.0px;transform:scaleX(1.0841)">to</span>
<span class="t r" style="left:785.30px;top:916.00px;font-size:16.0px;line-height:16.0px;transform:scaleX(1.1777)">the</span>
<span class="t r" style="left:813.40px;top:916.00px;font-size:16.0px;line-height:16.0px;transform:scaleX(1.1260)">previous</span>
<span class="t r" style="left:880.80px;top:916.00px;font-size:16.0px;line-height:16.0px;transform:scaleX(1.1646)">business</span>
<span class="t r" style="left:949.30px;top:916.00px;font-size:16.0px;line-height:16.0px;transform:scaleX(1.0933)">day,</span>
<span class="t r" style="left:981.80px;top:916.00px;font-size:16.0px;line-height:16.0px;transform:scaleX(1.1684)">and</span>
<span class="t r" style="left:1014.40px;top:916.00px;font-size:16.0px;line-height:16.0px;transform:scaleX(1.1144)">as</span>
<span class="t r" style="left:1034.60px;top:916.00px;font-size:16.0px;line-height:16.0px;transform:scaleX(1.1273)">a</span>
<span class="t r" style="left:1047.70px;top:916.00px;font-size:16.0px;line-height:16.0px;transform:scaleX(1.1939)">result</span>
<span class="t r" style="left:1096.30px;top:916.00px;font-size:16.0px;line-height:16.0px;transform:scaleX(1.1670)">certain</span>
<span class="t r" style="left:1153.02px;top:916.00px;font-size:16.0px;line-height:16.0px;transform:scaleX(1.0470)">fiscal</span>
<span class="t r" style="left:1195.60px;top:916.00px;font-size:16.0px;line-height:16.0px;transform:scaleX(1.1390)">years</span>
<span class="t r" style="left:1239.60px;top:916.00px;font-size:16.0px;line-height:16.0px;transform:scaleX(1.1215)">can</span>
<span class="t r" style="left:1270.50px;top:916.00px;font-size:16.0px;line-height:16.0px;transform:scaleX(1.1328)">have</span>
<span class="t r" style="left:1309.20px;top:916.00px;font-size:16.0px;line-height:16.0px;transform:scaleX(1.0967)">11</span>
<span class="t r" style="left:1331.97px;top:916.00px;font-size:16.0px;line-height:16.0px;transform:scaleX(1.0470)">or</span>
<span class="t r" style="left:1351.50px;top:916.00px;font-size:16.0px;line-height:16.0px;transform:scaleX(1.0470)">13</span>
<span class="t r" style="left:1374.00px;top:916.00px;font-size:16.0px;line-height:16.0px;transform:scaleX(1.1095)">benefit</span>
<span class="t r" style="left:118.60px;top:934.00px;font-size:16.0px;line-height:16.0px;transform:scaleX(1.1571)">payments</span>
<span class="t r" style="left:194.90px;top:934.00px;font-size:16.0px;line-height:16.0px;transform:scaleX(1.2137)">rather</span>
<span class="t r" style="left:246.60px;top:934.00px;font-size:16.0px;line-height:16.0px;transform:scaleX(1.2052)">than</span>
<span class="t r" style="left:284.74px;top:934.00px;font-size:16.0px;line-height:16.0px;transform:scaleX(1.0837)">12</span>
<span class="t r" style="left:307.70px;top:934.00px;font-size:16.0px;line-height:16.0px;transform:scaleX(1.1612)">payments.</span>
<span class="t r" style="left:1497.70px;top:41.30px;font-size:22.6px;line-height:22.6px;transform-origin:0 18.00px;transform:rotate(90deg) scaleX(1.0684)">BUDGET</span>
<span class="t r" style="left:1497.70px;top:147.00px;font-size:22.6px;line-height:22.6px;transform-origin:0 18.00px;transform:rotate(90deg) scaleX(0.9850)">OF</span>
<span class="t r" style="left:1497.70px;top:178.40px;font-size:22.6px;line-height:22.6px;transform-origin:0 18.00px;transform:rotate(90deg) scaleX(1.1990)">THE</span>
<span class="t r" style="left:1497.70px;top:233.90px;font-size:22.6px;line-height:22.6px;transform-origin:0 18.00px;transform:rotate(90deg) scaleX(1.0084)">U.</span>
<span class="t r" style="left:1497.70px;top:258.92px;font-size:22.6px;line-height:22.6px;transform-origin:0 18.00px;transform:rotate(90deg) scaleX(1.1768)">S.</span>
<span class="t r" style="left:1497.70px;top:290.80px;font-size:22.6px;line-height:22.6px;transform-origin:0 18.00px;transform:rotate(90deg) scaleX(1.0786)">GOVERNMENT</span>
<span class="t r" style="left:1497.70px;top:467.10px;font-size:22.6px;line-height:22.6px;transform-origin:0 18.00px;transform:rotate(90deg) scaleX(0.9937)">FOR</span>
<span class="t r" style="left:1497.70px;top:519.30px;font-size:22.6px;line-height:22.6px;transform-origin:0 18.00px;transform:rotate(90deg) scaleX(1.0462)">FISCAL</span>
<span class="t r" style="left:1497.70px;top:607.50px;font-size:22.6px;line-height:22.6px;transform-origin:0 18.00px;transform:rotate(90deg) scaleX(1.0105)">YEAR</span>
<span class="t r" style="left:1497.70px;top:675.62px;font-size:22.6px;line-height:22.6px;transform-origin:0 18.00px;transform:rotate(90deg) scaleX(1.0800)">2024</span>
<span class="t r" style="left:1496.50px;top:1027.03px;font-size:23.0px;line-height:23.0px;transform-origin:0 19.00px;transform:rotate(90deg) scaleX(0.9375)">135</span>
</body>
</html>
